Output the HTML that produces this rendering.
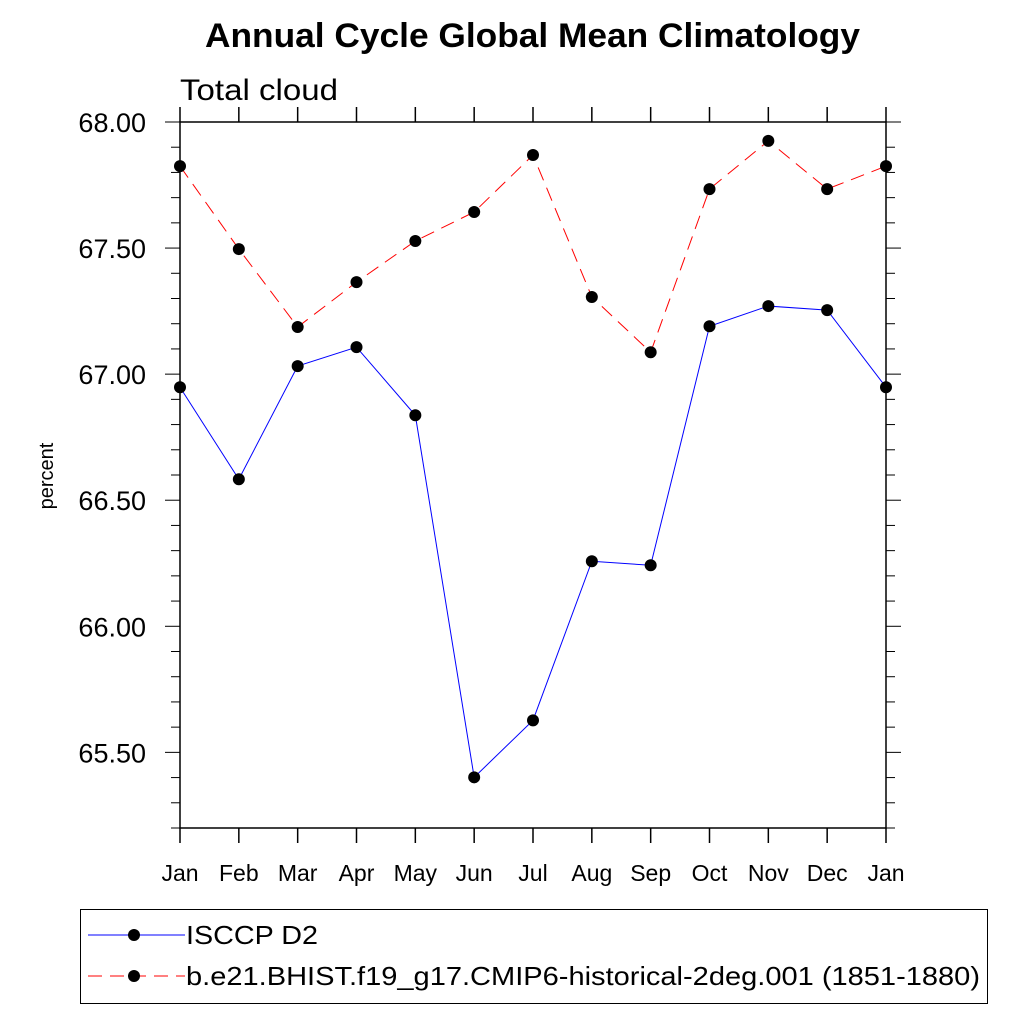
<!DOCTYPE html>
<html><head><meta charset="utf-8"><style>
body{margin:0;background:#fff}
svg text{font-family:"Liberation Sans",sans-serif}
</style></head><body>
<svg id="chart" width="1024" height="1024" xmlns="http://www.w3.org/2000/svg">
<text x="205" y="47" font-size="34" font-weight="bold" textLength="655" lengthAdjust="spacingAndGlyphs">Annual Cycle Global Mean Climatology</text>
<text x="180" y="100" font-size="30" textLength="158" lengthAdjust="spacingAndGlyphs">Total cloud</text>
<text x="53" y="476" font-size="20" text-anchor="middle" transform="rotate(-90 53 476)">percent</text>
<g id="axes"></g>
<g id="series"></g>
<rect x="80.5" y="909.5" width="907" height="94" fill="none" stroke="#000" stroke-width="1"/>
<g>
<line x1="88" y1="935" x2="185" y2="935" stroke="#00f" stroke-width="1"/>
<circle cx="134" cy="935" r="6" fill="#000"/>
<text x="186" y="944" font-size="26" textLength="132" lengthAdjust="spacingAndGlyphs">ISCCP D2</text>
</g>
<g>
<line x1="88" y1="976" x2="185" y2="976" stroke="#f00" stroke-width="1" stroke-dasharray="14,8"/>
<circle cx="134" cy="976" r="6" fill="#000"/>
<text x="186" y="985" font-size="26" textLength="794" lengthAdjust="spacingAndGlyphs">b.e21.BHIST.f19_g17.CMIP6-historical-2deg.001 (1851-1880)</text>
</g>
</svg>
<script>
const months=["Jan","Feb","Mar","Apr","May","Jun","Jul","Aug","Sep","Oct","Nov","Dec","Jan"];
const isccp=[66.948,66.583,67.032,67.107,66.837,65.401,65.627,66.258,66.242,67.190,67.270,67.254,66.948];
const cesm=[67.825,67.496,67.187,67.365,67.528,67.643,67.869,67.306,67.087,67.734,67.925,67.734,67.825];
const yTicks=[65.5,66.0,66.5,67.0,67.5,68.0];
const yMin=65.2,yMax=68.0;
const L=180,R=886,T=122,B=828;
const NS="http://www.w3.org/2000/svg";
const xs=i=>L+i*(R-L)/(months.length-1);
const ys=v=>B-(v-yMin)/(yMax-yMin)*(B-T);
function mk(t,a,p){const e=document.createElementNS(NS,t);for(const k in a)e.setAttribute(k,a[k]);p.appendChild(e);return e;}
const ax=document.getElementById('axes');
const frame=mk('rect',{x:L,y:T,width:R-L,height:B-T,fill:'none',stroke:'#000','stroke-width':1.5},ax);


months.forEach((m,i)=>{
  const x=xs(i);
  const t1=mk('line',{x1:x,x2:x,y1:B,y2:B+15,stroke:'#000','stroke-width':1.5},ax);
  
  
  const t2=mk('line',{x1:x,x2:x,y1:T,y2:T-15,stroke:'#000','stroke-width':1.5},ax);
  
  
  const lb=mk('text',{x:x,y:B+53,'font-size':23,'text-anchor':'middle'},ax);
  lb.textContent=m;
  
  
});
for(let k=0;k<=28;k++){
  const v=yMin+k*0.1;const y=ys(v);
  const major=Math.abs((v*2)-Math.round(v*2))<1e-6;
  const len=major?15:9;
  const a=mk('line',{x1:L,x2:L-len,y1:y,y2:y,stroke:'#000','stroke-width':1},ax);
  
  
  const b=mk('line',{x1:R,x2:R+len,y1:y,y2:y,stroke:'#000','stroke-width':1},ax);
  
  
}
yTicks.forEach(v=>{
  const lb=mk('text',{x:L-34,y:ys(v)+10,'font-size':27,'text-anchor':'end'},ax);
  lb.textContent=v.toFixed(2);
  
  
});
const sg=document.getElementById('series');
function draw(vals,color,dash,name){
  const pts=vals.map((v,i)=>xs(i)+','+ys(v)).join(' ');
  const pl=mk('polyline',{points:pts,fill:'none',stroke:color,'stroke-width':1,'stroke-dasharray':dash},sg);
  
  
  vals.forEach((v,i)=>{
    const c=mk('circle',{cx:xs(i),cy:ys(v),r:6,fill:'#000'},sg);
    
    
  });
}
draw(isccp,'#00f','none','isccp');
draw(cesm,'#f00','14,8','cesm');
</script>
</body></html>
